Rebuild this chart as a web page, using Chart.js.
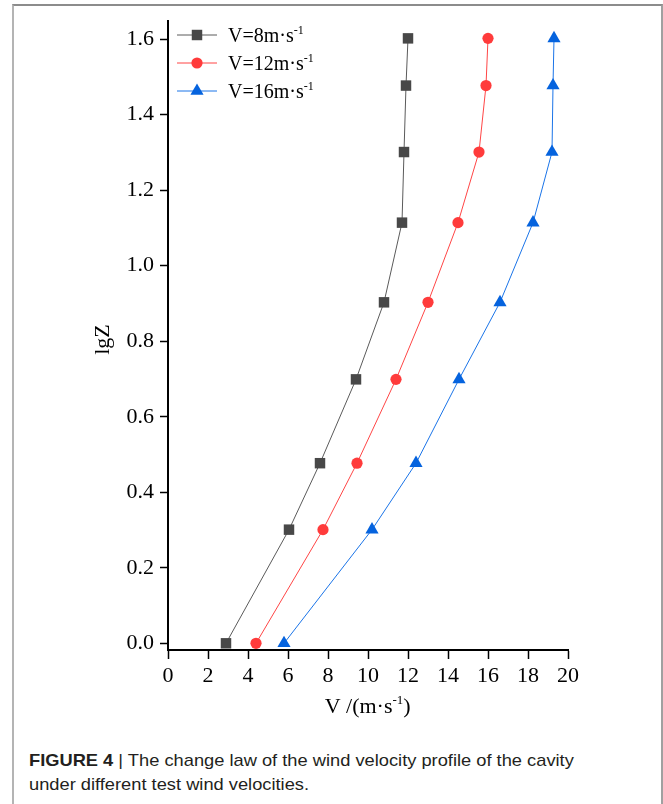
<!DOCTYPE html>
<html>
<head>
<meta charset="utf-8">
<script src="https://cdn.jsdelivr.net/npm/chart.js@4/dist/chart.umd.min.js"></script>
<style>
  html, body { margin: 0; padding: 0; background: #fff; }
  body { width: 663px; height: 804px; position: relative; overflow: hidden; }
  #frame {
    position: absolute; left: 12px; top: 4px; width: 647px; height: 820px;
    border-top: 2px solid #8c8c8c; border-left: 2px solid #b4b4b4; border-right: 2px solid #a0a0a0;
  }
  #wrap { position: absolute; left: 0; top: 0; width: 663px; height: 740px; }
  #caption {
    position: absolute; left: 29px; top: 749px; white-space: nowrap;
    font-family: "Liberation Sans", Arial, sans-serif; font-size: 17px; line-height: 24px; color: #231f20;
    transform: scaleX(1.075); transform-origin: 0 0;
  }
  #caption b { font-weight: bold; }
</style>
</head>
<body>
<div id="frame"></div>
<div id="wrap"><canvas id="profileChart" width="663" height="740"></canvas></div>
<div id="caption"><b>FIGURE 4</b> | The change law of the wind velocity profile of the cavity<br>under different test wind velocities.</div>
<script>
// lgZ heights and measured velocities for each test wind speed
const lgZ = [0, 0.301, 0.477, 0.699, 0.903, 1.114, 1.301, 1.477, 1.602];
const v8 = [2.9, 6.05, 7.6, 9.4, 10.8, 11.7, 11.8, 11.9, 12.0];
const v12 = [4.4, 7.75, 9.45, 11.4, 13.0, 14.5, 15.55, 15.9, 16.0];
const v16 = [5.8, 10.2, 12.4, 14.55, 16.6, 18.25, 19.2, 19.25, 19.3];

const seriesNames = ["V=8m·s", "V=12m·s", "V=16m·s"];
const xTicks = [0, 2, 4, 6, 8, 10, 12, 14, 16, 18, 20];
const yTicks = [0, 0.2, 0.4, 0.6, 0.8, 1.0, 1.2, 1.4, 1.6];

const serif = "'Liberation Serif', 'Times New Roman', serif";

function toPoints(vals) {
  return vals.map((v, i) => ({ x: v, y: lgZ[i] }));
}

function makeSet(label, vals, color, lineColor, style, radius) {
  return {
    label: label,
    data: toPoints(vals),
    borderColor: lineColor,
    backgroundColor: color,
    pointBackgroundColor: color,
    pointBorderColor: color,
    pointBorderWidth: 0,
    pointStyle: style,
    pointRadius: radius,
    borderWidth: 1,
    tension: 0,
    fill: false,
    clip: false,
  };
}

const datasets = [
  makeSet(seriesNames[0], v8, "#484848", "#5a5a5a", "rect", 7.4),
  makeSet(seriesNames[1], v12, "#ff3b3b", "#ff4545", "circle", 5.6),
  makeSet(seriesNames[2], v16, "#0563de", "#1a74e8", "triangle", 7.6),
];

// draws the legend and axis titles (they need superscripts)
const decorations = {
  id: "decorations",
  afterDraw(chart) {
    const ctx = chart.ctx;
    const area = chart.chartArea;
    ctx.save();
    ctx.fillStyle = "#000";

    function supText(x, y, main, sup, size, align) {
      ctx.font = size + "px " + serif;
      const w1 = ctx.measureText(main).width;
      ctx.font = Math.round(size * 0.6) + "px " + serif;
      const w2 = ctx.measureText(sup).width;
      let start = x;
      if (align === "center") start = x - (w1 + w2) / 2;
      ctx.textBaseline = "alphabetic";
      ctx.textAlign = "left";
      ctx.font = size + "px " + serif;
      ctx.fillText(main, start, y);
      ctx.font = Math.round(size * 0.6) + "px " + serif;
      ctx.fillText(sup, start + w1, y - size * 0.42);
      return start + w1 + w2;
    }

    // legend rows
    chart.data.datasets.forEach((ds, i) => {
      const cy = 35 + i * 28;
      ctx.strokeStyle = ds.borderColor;
      ctx.lineWidth = 1;
      ctx.beginPath();
      ctx.moveTo(177, cy);
      ctx.lineTo(217, cy);
      ctx.stroke();
      ctx.fillStyle = ds.backgroundColor;
      Chart.helpers.drawPoint(ctx, { pointStyle: ds.pointStyle, radius: ds.pointRadius, borderWidth: 0 }, 197, cy);
      ctx.fillStyle = "#000";
      supText(228, cy + 7, ds.label, "-1", 20, "left");
    });

    // x axis title
    const close = supText((area.left + area.right) / 2 - 4, 713, "V /(m·s", "-1", 22, "center");
    ctx.font = "22px " + serif;
    ctx.fillText(")", close, 713);

    // y axis title
    ctx.translate(103, (area.top + area.bottom) / 2 + 4);
    ctx.rotate(-Math.PI / 2);
    ctx.font = "22px " + serif;
    ctx.textAlign = "center";
    ctx.textBaseline = "middle";
    ctx.fillText("lgZ", 0, 0);
    ctx.restore();
  },
};

const ctx = document.getElementById("profileChart").getContext("2d");
const profileChart = new Chart(ctx, {
  type: "line",
  data: { datasets: datasets },
  plugins: [decorations],
  options: {
    responsive: false,
    animation: false,
    layout: { padding: { left: 0, right: 95, top: 21, bottom: 0 } },
    plugins: {
      legend: { display: false },
      tooltip: { enabled: false },
    },
    scales: {
      x: {
        type: "linear",
        min: 0,
        max: 20,
        afterFit: (scale) => { scale.height = 90; },
        afterBuildTicks: (scale) => { scale.ticks = xTicks.map((v) => ({ value: v })); },
        border: { display: true, color: "#000", width: 2 },
        grid: { drawOnChartArea: false, drawTicks: true, tickLength: 9, color: "#000", tickWidth: 1.5 },
        ticks: {
          color: "#000",
          padding: 4,
          maxRotation: 0,
          font: { family: serif, size: 22 },
          callback: (v) => String(v),
        },
      },
      y: {
        type: "linear",
        min: -0.0177,
        max: 1.648,
        afterFit: (scale) => { scale.width = 168; },
        afterBuildTicks: (scale) => { scale.ticks = yTicks.map((v) => ({ value: v })); },
        border: { display: true, color: "#000", width: 2 },
        grid: { drawOnChartArea: false, drawTicks: true, tickLength: 8, color: "#000", tickWidth: 1.5 },
        ticks: {
          color: "#000",
          padding: 6,
          font: { family: serif, size: 22 },
          callback: (v) => v.toFixed(1),
        },
      },
    },
  },
});
</script>
</body>
</html>
